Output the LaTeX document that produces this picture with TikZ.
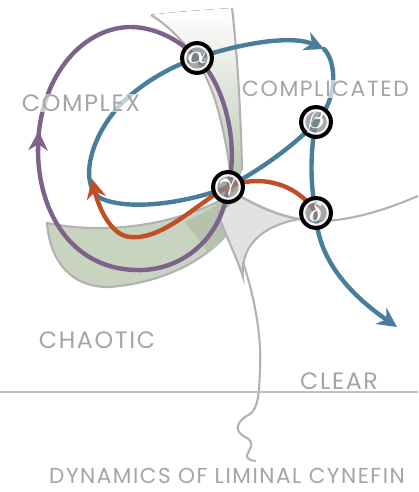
\documentclass[tikz,border=0pt]{standalone}
\usepackage{fontspec}
\newfontfamily\hand[LetterSpace=7]{Poppins}
\usetikzlibrary{arrows.meta}
\definecolor{cpurple}{RGB}{125,98,138}
\definecolor{cblue}{RGB}{72,125,155}
\definecolor{corange}{RGB}{192,78,38}
\definecolor{ctext}{RGB}{165,165,165}
\definecolor{cline}{RGB}{178,178,178}
\definecolor{cgreen}{RGB}{200,211,192}
\definecolor{cgreendk}{RGB}{182,194,174}
\definecolor{cregion}{RGB}{226,226,226}
\begin{document}
\begin{tikzpicture}[x=0.02cm,y=-0.02cm,
  loopline/.style={line width=2.5pt, line cap=round},
  tipA/.style={-{Stealth[length=11pt,width=11pt,inset=3.5pt]}},
  greek/.style={circle, draw=black, line width=2.2pt, minimum size=0.6cm, inner sep=0pt,
     fill=gray!95, fill opacity=0.72, text opacity=1, text=white, font=\Large\boldmath,
     path picture={\draw[white, line width=1.1pt, draw opacity=0.9] (path picture bounding box.center) circle[radius=0.235cm];}},
  lbl/.style={font=\hand\fontsize{13.5}{14}\selectfont, text=ctext, fill=white, fill opacity=0.65, text opacity=1, inner sep=0.5pt},
  gline/.style={draw=cline, line width=1.2pt}]
\useasboundingbox (0,0) rectangle (418,492);

% positions of the four nodes
\coordinate (a) at (197,58);
\coordinate (b) at (316,122);
\coordinate (g) at (228,187);
\coordinate (d) at (316,213);

% upper liminal band
\fill[top color=white, bottom color=cgreendk] (151,15) .. controls (175,30) and (205,60) .. (218,110)
   .. controls (226,140) and (230,165) .. (232,192) -- (242,170)
   .. controls (241,120) and (238,60) .. (232,8) .. controls (205,10) and (170,12) .. (151,15) -- cycle;
\draw[gline] (151,15) .. controls (175,30) and (205,60) .. (218,110)
   .. controls (226,140) and (230,165) .. (232,192);
\draw[gline] (242,170) .. controls (241,120) and (238,60) .. (232,8);

% green lower blob
\filldraw[fill=cgreen, draw=cline, line width=1.2pt] (47,223) .. controls (90,232) and (160,232) .. (225,198)
   -- (236,222) .. controls (215,255) and (170,282) .. (110,287)
   .. controls (72,288) and (50,262) .. (47,223) -- cycle;
\fill[cgreendk] (185,222) .. controls (205,212) and (218,205) .. (226,198) -- (237,222)
   .. controls (228,236) and (218,246) .. (208,252) -- cycle;

% central grey region
\filldraw[fill=cregion, gline] (240,196) .. controls (260,208) and (280,216) .. (300,219)
   .. controls (270,224) and (240,240) .. (243,277)
   .. controls (236,255) and (225,235) .. (218,213) -- cycle;
\draw[gline] (240,196) .. controls (265,210) and (290,220) .. (316,221)
   .. controls (350,222) and (390,208) .. (418,196);
% long line with squiggle
\draw[gline] (243,262) .. controls (252,290) and (262,330) .. (260,370)
   .. controls (259,395) and (258,408) .. (250,414)
   .. controls (238,420) and (232,430) .. (245,437)
   .. controls (256,442) and (250,448) .. (247,455)
   .. controls (246,459) and (252,461) .. (256,461);
% horizontal line
\coordinate (hl) at (0,392);
\coordinate (hr) at (418,392);
\draw[draw=cline!80, line width=0.9pt] (hl) -- (hr);

% purple loop
\draw[cpurple, loopline] (a) .. controls (222,80) and (240,140) .. (g)
   .. controls (222,240) and (180,272) .. (135,270)
   .. controls (70,268) and (38,210) .. (38,150)
   .. controls (38,80) and (80,28) .. (130,27)
   .. controls (160,27) and (185,45) .. (a);
\coordinate (pa0) at (38,152);
\coordinate (pa1) at (38.6,131);
\draw[cpurple, loopline, tipA] (pa0) -- (pa1);

% blue loop
\coordinate (bt) at (324,49);
\draw[cblue, loopline, tipA] (g) .. controls (190,202) and (130,212) .. (100,198)
   .. controls (80,185) and (88,140) .. (120,105)
   .. controls (145,80) and (175,65) .. (a)
   .. controls (235,45) and (290,34) .. (bt);
\draw[cblue, loopline] (bt) .. controls (337,62) and (338,100) .. (b)
   .. controls (295,145) and (260,170) .. (g);
\draw[cblue, loopline] (b) .. controls (310,150) and (310,185) .. (d);
\coordinate (bd) at (397,327);
\draw[cblue, loopline, tipA] (d) .. controls (317,262) and (355,298) .. (bd);

% orange path
\coordinate (ot) at (92,179);
\draw[corange, loopline, tipA] (d) .. controls (295,180) and (255,175) .. (g)
   .. controls (200,200) and (160,245) .. (125,236)
   .. controls (108,230) and (98,205) .. (ot);

% labels
\node[lbl] (lcx) at (81,103) {COMPLEX};
\node[lbl, anchor=east, font=\hand\fontsize{12.5}{13}\selectfont] (lcd) at (410,89) {COMPLICATED};
\node[lbl] (lch) at (97,340) {CHAOTIC};
\node[lbl] (lcl) at (339,381) {CLEAR};
\node[lbl, anchor=west, font=\hand\fontsize{12.3}{13}\selectfont] (ldy) at (48,476) {DYNAMICS OF LIMINAL CYNEFIN};

% nodes
\node[greek] (na) at (a) {$\alpha$};
\node[greek] (nb) at (b) {$\beta$};
\node[greek] (ng) at (g) {$\gamma$};
\node[greek] (nd) at (d) {$\delta$};
\end{tikzpicture}
\end{document}
